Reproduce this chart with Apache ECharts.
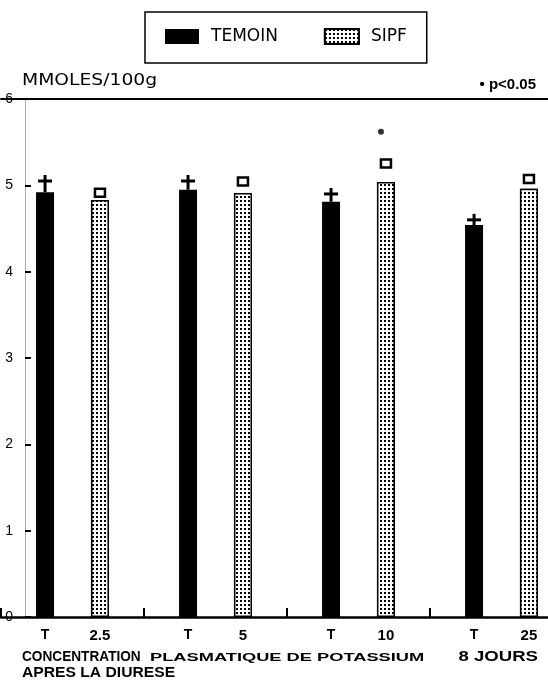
<!DOCTYPE html>
<html>
<head>
<meta charset="utf-8">
<script src="https://cdn.jsdelivr.net/npm/echarts@6/dist/echarts.min.js"></script>
<style>
html,body{margin:0;padding:0;background:#fff;}
#chart{width:548px;height:694px;}
</style>
</head>
<body>
<div id="chart"></div>
<script>
// ---- data ----
const categories = ['2.5', '5', '10', '25'];
const controlLabel = 'T';
const seriesNames = ['TEMOIN', 'SIPF'];
const temoin = [4.92, 4.95, 4.81, 4.54];
const temoinErrTop = [5.05, 5.05, 4.90, 4.60];
const sipf = [4.83, 4.91, 5.04, 4.96];
const sipfErrTop = [4.96, 5.09, 5.30, 5.12];
const signif = [null, null, 5.62, null];
const yMin = 0, yMax = 6, yStep = 1;
const yUnit = 'MMOLES/100g';
const sigNote = '• p<0.05';
const xTitle1a = 'CONCENTRATION';
const xTitle1b = 'PLASMATIQUE DE POTASSIUM';
const xTitle1c = '8 JOURS';
const xTitle2 = 'APRES LA DIURESE';

// ---- styling ----
const BAR_W = 18;
const GAP_RATIO = 2.05;
const OFF = (BAR_W + BAR_W * GAP_RATIO) / 2;

const chart = echarts.init(document.getElementById('chart'), null, {renderer: 'canvas'});

function errRender(kind) {
  return function (params, api) {
    const i = api.value(0);
    const top = api.coord([i, api.value(1)]);
    const base = api.coord([i, api.value(2)]);
    const x = top[0] + (kind === 'T' ? -OFF : OFF);
    if (kind === 'T') {
      return {
        type: 'group',
        children: [
          {type: 'line', shape: {x1: x, y1: base[1], x2: x, y2: top[1] - 6}, style: {stroke: '#000', lineWidth: 3}},
          {type: 'line', shape: {x1: x - 7, y1: top[1], x2: x + 7, y2: top[1]}, style: {stroke: '#000', lineWidth: 3}}
        ]
      };
    }
    return {
      type: 'rect',
      shape: {x: x - 5, y: top[1], width: 10, height: 8},
      style: {fill: '#fff', stroke: '#000', lineWidth: 2.5}
    };
  };
}

const sipfDecal = {
  symbol: 'rect',
  symbolSize: 1,
  color: '#000',
  backgroundColor: '#fff',
  dashArrayX: [2, 2],
  dashArrayY: [2, 2],
  rotation: 0
};

const option = {
  backgroundColor: '#fff',
  animation: false,
  textStyle: {fontFamily: 'Liberation Sans, Arial, sans-serif', color: '#000'},
  title: [
    {
      text: sigNote, right: 7, top: 72,
      textStyle: {fontFamily: 'Liberation Sans', fontSize: 15, fontWeight: 'bold', color: '#000'}
    }
  ],
  graphic: [
    {type: 'text', x: 22, y: 81, scaleX: 1.17,
      style: {text: yUnit, font: '16px "DejaVu Sans"', fill: '#000', verticalAlign: 'middle'}},
    {type: 'text', x: 22, y: 657, scaleX: 0.88,
      style: {text: xTitle1a, font: 'bold 15.5px "Liberation Sans"', fill: '#000', verticalAlign: 'middle'}},
    {type: 'text', x: 150, y: 658, scaleX: 1.66,
      style: {text: xTitle1b, font: 'bold 11px "Liberation Sans"', fill: '#000', verticalAlign: 'middle'}},
    {type: 'text', x: 538, y: 657, scaleX: 1.2,
      style: {text: xTitle1c, font: 'bold 15.5px "Liberation Sans"', fill: '#000', verticalAlign: 'middle', align: 'right'}},
    {type: 'text', x: 22, y: 673, scaleX: 1.08,
      style: {text: xTitle2, font: 'bold 14.5px "Liberation Sans"', fill: '#000', verticalAlign: 'middle'}}
  ],
  legend: {
    data: seriesNames,
    left: 145, top: 12,
    orient: 'horizontal',
    padding: [16, 20, 18, 20],
    itemWidth: 34, itemHeight: 15, itemGap: 46,
    icon: 'rect',
    borderColor: '#000', borderWidth: 1.5, borderRadius: 0,
    textStyle: {fontFamily: 'DejaVu Sans', fontSize: 17, color: '#000', padding: [0, 0, 0, 7]}
  },
  grid: {left: 1, top: 99, width: 572, bottom: 77, outerBoundsMode: 'none'},
  xAxis: [
    {
      type: 'category',
      data: categories,
      boundaryGap: true,
      axisLine: {show: true, lineStyle: {color: '#000', width: 2.5}},
      axisTick: {show: true, inside: true, length: 9, lineStyle: {color: '#000', width: 2}},
      axisLabel: {
        margin: 11,
        formatter: v => '{t|' + controlLabel + '}{v|' + v + '}',
        rich: {
          t: {width: 2 * OFF, align: 'center', fontFamily: 'Liberation Sans', fontSize: 14, fontWeight: 'bold', color: '#000'},
          v: {width: 2 * OFF, align: 'center', fontFamily: 'Liberation Sans', fontSize: 15, fontWeight: 'bold', color: '#000'}
        }
      }
    },
    {
      type: 'category',
      position: 'top',
      data: categories,
      axisLine: {show: true, lineStyle: {color: '#000', width: 2}},
      axisTick: {show: false},
      axisLabel: {show: false}
    }
  ],
  yAxis: {
    type: 'value',
    min: yMin, max: yMax, interval: yStep,
    offset: -24,
    axisLine: {show: true, lineStyle: {color: '#999', width: 1, type: 'dotted'}},
    axisTick: {show: true, inside: true, length: 6, lineStyle: {color: '#000', width: 2}},
    axisLabel: {margin: 12, fontFamily: 'Liberation Sans', fontSize: 14, color: '#000'},
    splitLine: {show: false}
  },
  series: [
    {
      name: seriesNames[0],
      type: 'bar',
      data: temoin,
      barWidth: BAR_W,
      barGap: (GAP_RATIO * 100) + '%',
      itemStyle: {color: '#000', borderColor: '#000', borderWidth: 0}
    },
    {
      name: seriesNames[1],
      type: 'bar',
      data: sipf,
      barWidth: BAR_W,
      itemStyle: {color: '#fff', borderColor: '#000', borderWidth: 1.5, decal: sipfDecal}
    },
    {
      type: 'custom',
      renderItem: errRender('T'),
      data: temoin.map((v, i) => [i, temoinErrTop[i], v]),
      encode: {x: 0, y: [1, 2]},
      z: 3
    },
    {
      type: 'custom',
      renderItem: errRender('S'),
      data: sipf.map((v, i) => [i, sipfErrTop[i], v]),
      encode: {x: 0, y: [1, 2]},
      z: 3
    },
    {
      type: 'scatter',
      data: signif,
      symbol: 'circle',
      symbolSize: 6,
      symbolOffset: [OFF - 5, 0],
      itemStyle: {color: '#000'},
      z: 4
    }
  ]
};
chart.setOption(option);
</script>
</body>
</html>
